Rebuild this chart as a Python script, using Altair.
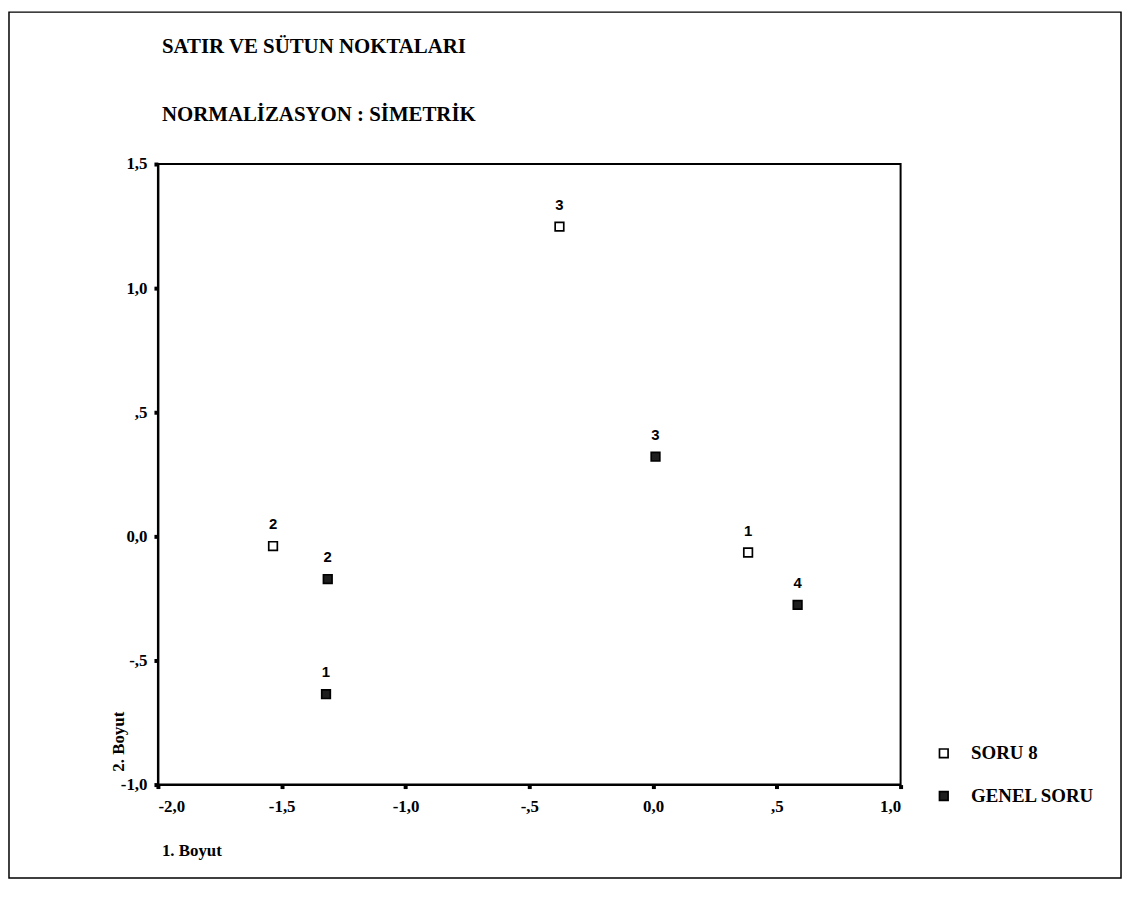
import altair as alt
import pandas as pd

# ---- data ----
SERIES = ["SORU 8", "SORU 8", "SORU 8", "GENEL SORU", "GENEL SORU", "GENEL SORU", "GENEL SORU"]
LABELS = ["1", "2", "3", "1", "2", "3", "4"]
DIM1 = [0.384, -1.535, -0.378, -1.321, -1.314, 0.010, 0.584]
DIM2 = [-0.065, -0.039, 1.248, -0.636, -0.172, 0.321, -0.276]

X_TICKS = [-2.0, -1.5, -1.0, -0.5, 0.0, 0.5, 1.0]
Y_TICKS = [-1.0, -0.5, 0.0, 0.5, 1.0, 1.5]
SERIES_ORDER = ["SORU 8", "GENEL SORU"]

TITLE1 = "SATIR VE SÜTUN NOKTALARI"
TITLE2 = "NORMALİZASYON : SİMETRİK"
XTITLE = "1. Boyut"
YTITLE = "2. Boyut"

df = pd.DataFrame({"series": SERIES, "label": LABELS, "d1": DIM1, "d2": DIM2})

SERIF = "Liberation Serif"
SANS = "Liberation Sans"
W, H = 748, 625

label_expr = ("datum.value == 0 ? '0,0' : ((datum.value < 0 ? '-' : '') + "
              "(abs(datum.value) < 1 ? (',' + format(abs(datum.value) * 10, 'd')) : "
              "replace(format(abs(datum.value), '.1f'), '.', ',')))")

axis_common = dict(labelExpr=label_expr, title=None, grid=False,
                   domainColor="black", domainWidth=2, tickColor="black",
                   tickSize=4, tickWidth=4,
                   labelFont=SERIF, labelFontSize=17, labelFontWeight="bold",
                   labelColor="black")

xenc = alt.X("d1:Q", scale=alt.Scale(domain=[-2.0, 1.0], nice=False, zero=False),
             axis=alt.Axis(values=X_TICKS, labelPadding=10, **axis_common))
yenc = alt.Y("d2:Q", scale=alt.Scale(domain=[-1.0, 1.5], nice=False, zero=False),
             axis=alt.Axis(values=Y_TICKS, labelPadding=7, **axis_common))

base = alt.Chart(df)

points = base.mark_point(shape="square", filled=False, size=75, strokeWidth=1.7, opacity=1).encode(
    x=xenc, y=yenc,
    fill=alt.Fill("series:N", scale=alt.Scale(domain=SERIES_ORDER, range=["white", "#1e1e1e"]),
                  legend=alt.Legend(title=None, orient="none", legendX=782, legendY=584,
                                    symbolType="square", symbolSize=75, symbolStrokeColor="black",
                                    symbolStrokeWidth=1.7, labelFont=SERIF, labelFontSize=19,
                                    labelFontWeight="bold", labelColor="black", labelOffset=18,
                                    rowPadding=23, padding=0)),
    stroke=alt.value("black"),
)

labels = base.mark_text(font=SANS, fontSize=15, fontWeight="bold", dy=-22, color="black").encode(
    x="d1:Q", y="d2:Q", text="label:N"
)

def txt(text, x, y, size, angle=0, weight="bold"):
    return alt.Chart(pd.DataFrame({"t": [text]})).mark_text(
        font=SERIF, fontSize=size, fontWeight=weight, align="left", baseline="alphabetic",
        angle=angle, color="black"
    ).encode(x=alt.value(x), y=alt.value(y), text="t:N")

t1 = txt(TITLE1, 4, -112, 21)
t2 = txt(TITLE2, 4, -43, 21)
xt = txt(XTITLE, 4, 697, 17)
yt = txt(YTITLE, -34, 612, 17, angle=270)

border = alt.Chart(pd.DataFrame({"a": [0]})).mark_rect(
    fill=None, stroke="black", strokeWidth=1.5
).encode(x=alt.value(-150), x2=alt.value(970), y=alt.value(-153), y2=alt.value(719))

chart = alt.layer(border, points, labels, t1, t2, xt, yt).properties(
    width=W, height=H,
    padding={"left": 151, "top": 154, "right": 224, "bottom": 100},
    autosize=alt.AutoSizeParams(type="none"),
).configure(background="white").configure_view(stroke="black", strokeWidth=2)

chart.save("out.html", embed_options={"renderer": "svg", "actions": False})
